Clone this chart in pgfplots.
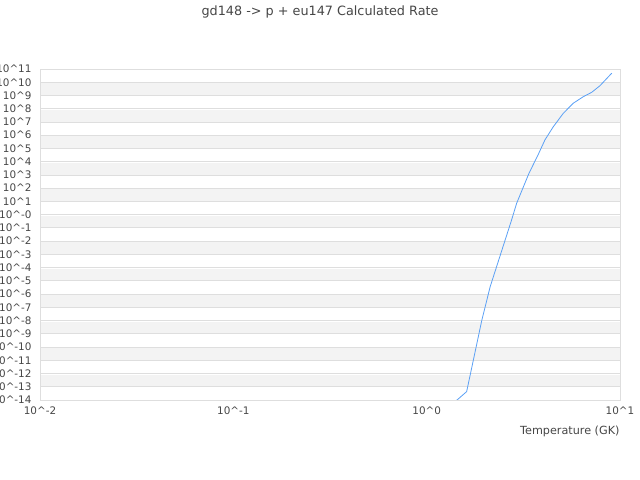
\documentclass[border=0pt]{standalone}
\usepackage{pgfplots}
\pgfplotsset{compat=1.18}
\usepackage{fontspec}
\setmainfont{DejaVu Sans}
\definecolor{band}{RGB}{243,243,243}
\definecolor{gridc}{RGB}{222,222,222}
\definecolor{txt}{RGB}{70,70,70}
\definecolor{line}{RGB}{90,160,245}
\begin{document}
\begin{tikzpicture}
\node[anchor=center, font=\fontsize{12.8bp}{14bp}\selectfont, text=txt] at (320bp,468bp) {gd148 -> p + eu147 Calculated Rate};
\begin{axis}[
  set layers,
  at={(40bp,80bp)}, anchor=south west,
  scale only axis, width=580bp, height=331bp,
  xmode=log, ymode=log,
  xmin=0.01, xmax=10, ymin=1e-14, ymax=1e11,
  axis line style={draw=gridc, line width=0.8bp},
  tick style={draw=none},
  xtick={0.01,0.1,1,10},
  xticklabels={10\textasciicircum-2,10\textasciicircum-1,10\textasciicircum0,10\textasciicircum1},
  ytick={1e-14,1e-13,1e-12,1e-11,1e-10,1e-9,1e-8,1e-7,1e-6,1e-5,1e-4,1e-3,1e-2,1e-1,1,1e1,1e2,1e3,1e4,1e5,1e6,1e7,1e8,1e9,1e10,1e11},
  yticklabels={10\textasciicircum-14,10\textasciicircum-13,10\textasciicircum-12,10\textasciicircum-11,10\textasciicircum-10,10\textasciicircum-9,10\textasciicircum-8,10\textasciicircum-7,10\textasciicircum-6,10\textasciicircum-5,10\textasciicircum-4,10\textasciicircum-3,10\textasciicircum-2,10\textasciicircum-1,10\textasciicircum-0,10\textasciicircum1,10\textasciicircum2,10\textasciicircum3,10\textasciicircum4,10\textasciicircum5,10\textasciicircum6,10\textasciicircum7,10\textasciicircum8,10\textasciicircum9,10\textasciicircum10,10\textasciicircum11},
  minor tick num=0,
  ymajorgrids=true,
  major grid style={draw=gridc, line width=0.8bp},
  ticklabel style={font=\fontsize{10.4bp}{12bp}\selectfont, text=txt},
  yticklabel style={xshift=-5bp},
  xticklabel style={yshift=-3bp},
  xlabel={Temperature (GK)},
  xlabel style={font=\fontsize{11.2bp}{13bp}\selectfont, text=txt, anchor=east, at={(rel axis cs:1,0)}, xshift=3bp, yshift=-31bp},
  clip=true,
]
\addplot[line, line width=0.8bp, mark=none] coordinates {
 (1.0,1e-16)
 (1.61,4.3e-14)
 (1.93,1.1e-8)
 (2.13,3.6e-6)
 (2.42,1.2e-3)
 (2.75,0.40)
 (2.92,7.2)
 (3.38,1.3e3)
 (3.78,3.6e4)
 (4.09,4.4e5)
 (4.52,4.4e6)
 (5.09,4.5e7)
 (5.73,2.6e8)
 (6.46,8.1e8)
 (7.14,1.74e9)
 (7.88,5.5e9)
 (9.06,4.8e10)
};
\pgfplotsinvokeforeach{-13,-11,-9,-7,-5,-3,-1,1,3,5,7,9}{
  \pgfonlayer{axis background}
  \fill[band] (axis cs:0.01,1e#1) rectangle ([yshift=12.24bp]axis cs:10,1e#1);
  \endpgfonlayer
}
\end{axis}
\pgfresetboundingbox
\path[use as bounding box] (0bp,0bp) rectangle (640bp,480bp);
\end{tikzpicture}
\end{document}
